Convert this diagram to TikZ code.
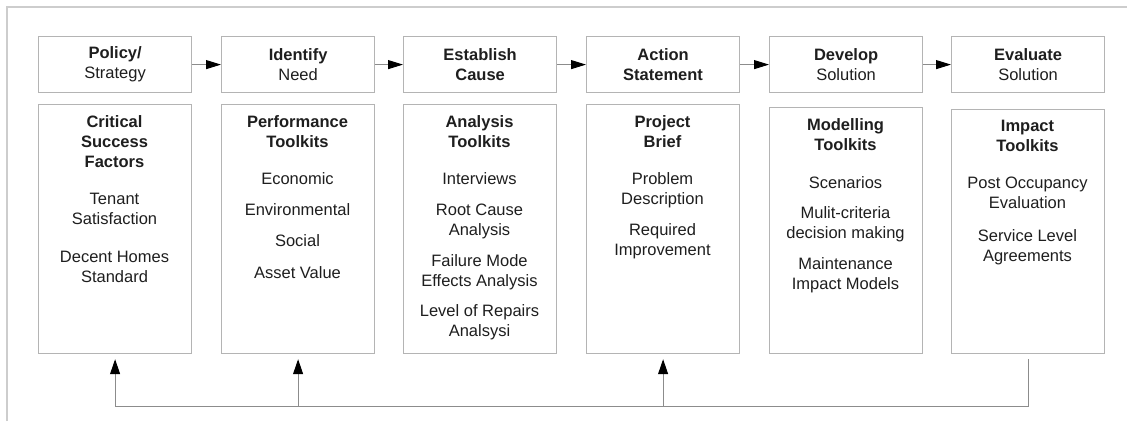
\documentclass[tikz,border=0pt]{standalone}
\usepackage{fontspec}
\setmainfont{Liberation Sans}
\usetikzlibrary{arrows.meta}
\definecolor{boxgray}{HTML}{B4B4B4}
\definecolor{linegray}{HTML}{8C8C8C}
\definecolor{framegray}{HTML}{CDCDCD}
\definecolor{txt}{HTML}{1E1E1E}
\begin{document}
\begin{tikzpicture}[x=1pt,y=-1pt,
  stagebox/.style={draw=boxgray, line width=1.2pt, minimum width=153pt, minimum height=56pt,
    inner sep=0pt, anchor=north west, align=center, font=\fontsize{16.5}{20}\selectfont, text=txt},
  toolbox/.style={draw=boxgray, line width=1.2pt, minimum width=153pt, inner sep=0pt, anchor=north west},
  toollist/.style={anchor=north, inner sep=0pt, align=center, font=\fontsize{16.5}{20}\selectfont, text=txt},
  flow/.style={draw=linegray, line width=1pt, -{Triangle[length=15pt,width=9pt,color=black]}},
  feed/.style={draw=linegray, line width=1pt},
  feedarrow/.style={draw=linegray, line width=1pt, -{Triangle[length=15pt,width=10pt,color=black]}}]
\useasboundingbox (0,0) rectangle (1127,421);
% frame
\draw[framegray, line width=2pt] (7,421) -- (7,7) -- (1127,7);

% stage boxes
\node[stagebox] (s1) at (38,36)  {\textbf{Policy/}\\Strategy};
\node[stagebox] (s2) at (221,36) {\textbf{Identify}\\Need};
\node[stagebox] (s3) at (403,36) {\textbf{Establish}\\\textbf{Cause}};
\node[stagebox] (s4) at (586,36) {\textbf{Action}\\\textbf{Statement}};
\node[stagebox] (s5) at (769,36) {\textbf{Develop}\\Solution};
\node[stagebox] (s6) at (951,36) {\textbf{Evaluate}\\Solution};

\draw[flow] (s1) -- (s2);
\draw[flow] (s2) -- (s3);
\draw[flow] (s3) -- (s4);
\draw[flow] (s4) -- (s5);
\draw[flow] (s5) -- (s6);

% toolkit boxes
\node[toolbox, minimum height=249pt] (t1) at (38,104) {};
\node[toolbox, minimum height=249pt] (t2) at (221,104) {};
\node[toolbox, minimum height=249pt] (t3) at (403,104) {};
\node[toolbox, minimum height=249pt] (t4) at (586,104) {};
\node[toolbox, minimum height=246pt] (t5) at (769,107) {};
\node[toolbox, minimum height=244pt] (t6) at (951,109) {};

\node[toollist] (l1) at (114.5,115) {\textbf{Critical}\\\textbf{Success}\\\textbf{Factors}\\[17pt]
  Tenant\\Satisfaction\\[18pt]Decent Homes\\Standard};
\node[toollist] (l2) at (297.5,115) {\textbf{Performance}\\\textbf{Toolkits}\\[17pt]
  Economic\\[11pt]Environmental\\[11pt]Social\\[12pt]Asset Value};
\node[toollist] (l3) at (479.5,115) {\textbf{Analysis}\\\textbf{Toolkits}\\[17pt]
  Interviews\\[11pt]Root Cause\\Analysis\\[11pt]Failure Mode\\Effects Analysis\\[10pt]Level of Repairs\\Analsysi};
\node[toollist] (l4) at (662.5,115) {\textbf{Project}\\\textbf{Brief}\\[17pt]
  Problem\\Description\\[11pt]Required\\Improvement};
\node[toollist] (l5) at (845.5,118) {\textbf{Modelling}\\\textbf{Toolkits}\\[18pt]
  Scenarios\\[10pt]Mulit-criteria\\decision making\\[11pt]Maintenance\\Impact Models};
\node[toollist] (l6) at (1027.5,120) {\textbf{Impact}\\\textbf{Toolkits}\\[17pt]
  Post Occupancy\\Evaluation\\[13pt]Service Level\\Agreements};

% feedback loop
\draw[feed] ([yshift=-5pt]t6.south) |- ([yshift=-52pt]t1.south);
\draw[feedarrow] ([yshift=-52pt]t1.south) -- ([yshift=-5pt]t1.south);
\draw[feedarrow] ([yshift=-52pt]t2.south) -- ([yshift=-5pt]t2.south);
\draw[feedarrow] ([yshift=-52pt]t4.south) -- ([yshift=-5pt]t4.south);
\end{tikzpicture}
\end{document}
